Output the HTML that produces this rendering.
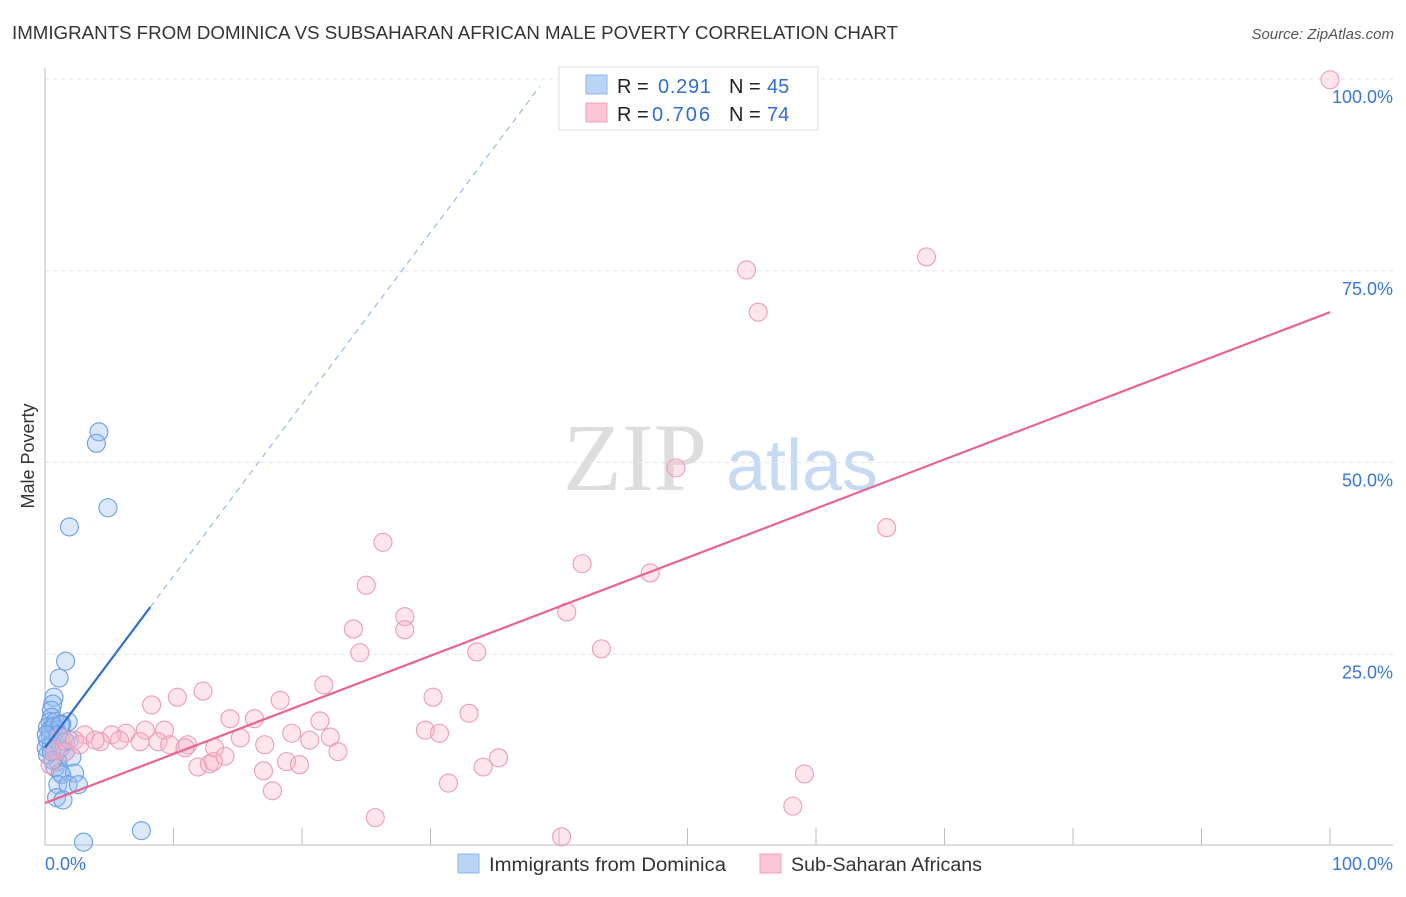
<!DOCTYPE html>
<html><head><meta charset="utf-8"><style>
body{margin:0;background:#fff;font-family:"Liberation Sans",sans-serif;}
svg text{font-family:"Liberation Sans",sans-serif;}
</style></head><body>
<svg id="chart" width="1406" height="892">
<text x="12" y="39" font-size="18" fill="#333" textLength="886" lengthAdjust="spacingAndGlyphs">IMMIGRANTS FROM DOMINICA VS SUBSAHARAN AFRICAN MALE POVERTY CORRELATION CHART</text>
<text x="1394" y="39" font-size="15" fill="#555" font-style="italic" text-anchor="end">Source: ZipAtlas.com</text>
<text x="34" y="456" font-size="18" fill="#333" transform="rotate(-90 34 456)" text-anchor="middle">Male Poverty</text>
<g>
<text x="635" y="490" font-size="96" fill="#ddd" text-anchor="middle" style="font-family:'Liberation Serif',serif">ZIP</text>
<text x="802" y="490" font-size="72" fill="#c8daf3" text-anchor="middle">atlas</text>
</g>
<g id="grid"></g><g id="axes"></g><g id="pts"></g><g id="lines"></g>
<g>
<rect x="559" y="67" width="259" height="63" fill="#fff" stroke="#ddd"/>
<rect x="586" y="75" width="21" height="19" fill="#b9d4f6" stroke="#8ab4ea"/>
<rect x="586" y="103" width="21" height="19" fill="#fbc6d5" stroke="#f0a0b8"/>
<text x="617" y="93" font-size="20" fill="#222">R = </text><text x="658" y="93" font-size="20" fill="#2f6fd0" textLength="53">0.291</text>
<text x="729" y="93" font-size="20" fill="#222">N = </text><text x="767" y="93" font-size="20" fill="#2f6fd0">45</text>
<text x="617" y="121" font-size="20" fill="#222">R = </text><text x="652" y="121" font-size="20" fill="#2f6fd0" textLength="58">0.706</text>
<text x="729" y="121" font-size="20" fill="#222">N = </text><text x="767" y="121" font-size="20" fill="#2f6fd0">74</text>
</g>
<g>
<rect x="458" y="854" width="21" height="19" fill="#b9d4f6" stroke="#8ab4ea"/>
<text x="489" y="871" font-size="19" fill="#333" textLength="237" lengthAdjust="spacingAndGlyphs">Immigrants from Dominica</text>
<rect x="760" y="854" width="21" height="19" fill="#fbc6d5" stroke="#f0a0b8"/>
<text x="791" y="871" font-size="19" fill="#333" textLength="191" lengthAdjust="spacingAndGlyphs">Sub-Saharan Africans</text>
</g>
</svg>
<script>
const yTicks=[25,50,75,100];
const yTickLabels=["25.0%","50.0%","75.0%","100.0%"];
const xTickLabels=["0.0%","100.0%"];
const blueX=[4.2,4.0,4.9,1.9,1.6,1.1,0.7,0.6,0.5,0.5,1.8,0.4,0.8,0.2,1.3,0.9,0.4,0.2,0.5,1.2,1.6,2.1,1.0,0.8,1.2,1.3,2.3,1.0,1.8,2.6,0.9,1.4,3.0,7.5,0.4,0.7,1.2,0.1,0.2,0.6,1.6,1.9,1.0,0.5,0.1];
const blueY=[54.0,52.5,44.1,41.6,24.1,21.9,19.4,18.5,17.7,16.8,16.2,16.2,16.2,15.5,15.9,15.1,14.5,13.8,13.2,12.8,12.3,11.6,11.0,10.2,9.6,9.3,9.5,8.0,8.0,8.0,6.3,6.0,0.5,2.0,15.1,15.6,15.8,12.8,11.9,11.2,13.6,13.8,14.5,12.3,14.5];
const pinkX=[100,68.6,54.6,55.5,49.1,65.5,26.3,41.8,25.0,47.1,28.0,40.6,24.0,28.0,43.3,33.6,24.5,30.2,21.7,33.0,8.3,10.3,12.3,18.3,21.4,14.4,16.3,9.3,7.8,6.3,5.2,3.1,1.2,2.3,4.3,7.4,8.8,11.1,13.2,15.2,17.1,19.2,20.6,22.2,22.8,18.8,19.8,11.9,12.8,14.0,17.0,17.7,31.4,34.1,35.3,29.6,30.7,59.1,58.2,25.7,40.2,0.4,0.8,1.6,2.7,3.9,5.8,9.7,10.9,13.1];
const pinkY=[99.9,76.8,75.1,69.6,49.3,41.5,39.6,36.8,34.0,35.6,29.9,30.5,28.3,28.2,25.7,25.3,25.2,19.4,21.0,17.3,18.4,19.4,20.2,19.0,16.3,16.6,16.6,15.1,15.1,14.7,14.5,14.5,14.1,13.8,13.6,13.6,13.6,13.2,12.8,14.1,13.2,14.7,13.8,14.2,12.3,11.0,10.6,10.3,10.7,11.7,9.8,7.2,8.2,10.3,11.5,15.1,14.7,9.4,5.2,3.7,1.2,10.6,12.5,12.3,13.2,13.8,13.8,13.2,12.8,11.0];
const blueFit=[12.8,2.24];
const pinkFit=[5.6,0.64];
const X=v=>45+v*12.85, Y=v=>846-v*7.67;
const NS="http://www.w3.org/2000/svg";
function mk(p,t,a){const e=document.createElementNS(NS,t);for(const k in a)e.setAttribute(k,a[k]);document.getElementById(p).appendChild(e);return e;}
yTicks.forEach((t,i)=>{
 const g=mk('grid','line',{x1:45,x2:1393,y1:Y(t),y2:Y(t),stroke:'#e4e4e4','stroke-dasharray':'4 4'});
 
 
 const l=mk('grid','text',{x:1393,y:Y(t)+24,'font-size':18,fill:'#3a78d4','text-anchor':'end'});l.textContent=yTickLabels[i];
 
 
});
const ax=mk('axes','line',{x1:45,x2:45,y1:68,y2:845,stroke:'#bbb'});


const bx=mk('axes','line',{x1:45,x2:1393,y1:845,y2:845,stroke:'#bbb'});


for(let i=0;i<=10;i++){const t=mk('axes','line',{x1:X(i*10),x2:X(i*10),y1:828,y2:845,stroke:'#bbb'});
 
 }
[[0,'start'],[100,'end']].forEach(([v,a],i)=>{const t=mk('axes','text',{x:X(v)+(i?63:0),y:870,'font-size':18,fill:'#3a78d4','text-anchor':a});t.textContent=xTickLabels[i];
 
 });
blueX.forEach((v,i)=>{const c=mk('pts','circle',{cx:X(v),cy:Y(blueY[i]),r:9,fill:'rgba(150,190,240,0.35)',stroke:'#6a9ee0','stroke-width':1.1});
 
 });
pinkX.forEach((v,i)=>{const c=mk('pts','circle',{cx:X(v),cy:Y(pinkY[i]),r:9,fill:'rgba(248,180,200,0.35)',stroke:'#ec9cb5','stroke-width':1.1});
 
 });
const bf=x=>blueFit[0]+blueFit[1]*x, pf=x=>pinkFit[0]+pinkFit[1]*x;
const b1=mk('lines','line',{x1:X(0),y1:Y(bf(0)),x2:X(8.2),y2:Y(bf(8.2)),stroke:'#2f6fd0','stroke-width':2.2});


const b2=mk('lines','line',{x1:X(8.2),y1:Y(bf(8.2)),x2:X(38.5),y2:Y(bf(38.5)),stroke:'#9ab9e6','stroke-width':1.2,'stroke-dasharray':'6 5'});


const p1=mk('lines','line',{x1:X(0),y1:Y(pf(0)),x2:X(100),y2:Y(pf(100)),stroke:'#e8648e','stroke-width':2.2});


</script>
</body></html>
